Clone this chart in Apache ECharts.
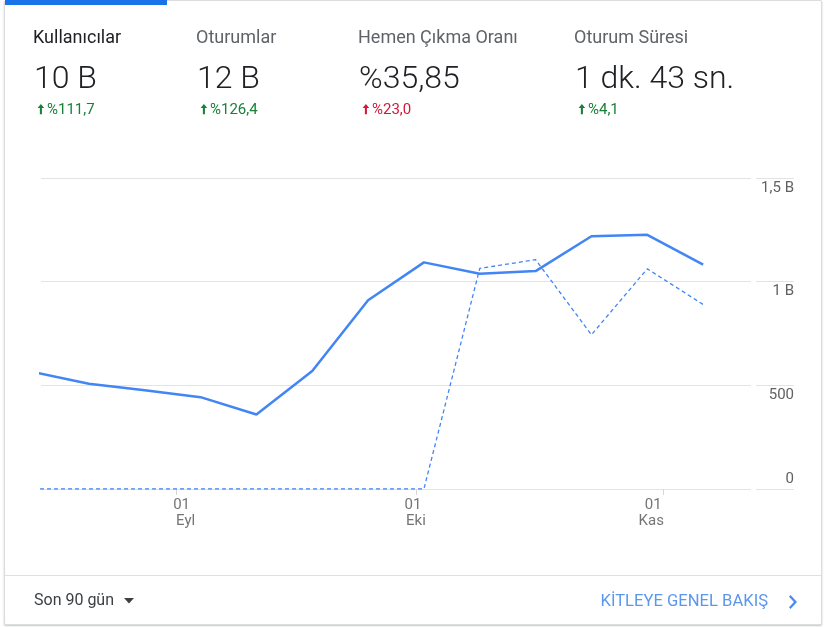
<!DOCTYPE html>
<html><head><meta charset="utf-8">
<script src="https://cdn.jsdelivr.net/npm/echarts@6/dist/echarts.min.js"></script>
<style>
html,body{margin:0;padding:0;background:#fff;overflow:hidden;}
#card{position:absolute;left:4px;top:0;width:816px;height:623px;border:1px solid #dadce0;border-radius:2px;box-shadow:0 1px 2px rgba(60,64,67,.3);background:#fff;}
#c{position:absolute;left:0;top:0;width:829px;height:627px;}
</style>
</head><body><div id="card"></div><div id="c"></div>
<script>
// ---- data ----
const weekDates = ['2019-08-14','2019-08-21','2019-08-28','2019-09-04','2019-09-11','2019-09-18','2019-09-25','2019-10-02','2019-10-09','2019-10-16','2019-10-23','2019-10-30','2019-11-06'];
const users     = [564, 508, 476, 443, 359, 569, 910, 1093, 1038, 1051, 1219, 1226, 1082];
const usersPrev = [0, 0, 0, 0, 0, 0, 0, 0, 1064, 1106, 744, 1062, 890];
const rangeStart = '2019-08-15';
const rangeEnd = '2019-11-12';
const monthTicks = ['2019-09-01','2019-10-01','2019-11-01'];
const monthLabels = ['Eyl','Eki','Kas'];
const dayLabel = '01';
const yTicks = [0, 500, 1000, 1500];
const yTickLabels = ['0', '500', '1 B', '1,5 B'];
const metricNames = ['Kullanıcılar','Oturumlar','Hemen Çıkma Oranı','Oturum Süresi'];
const metricValues = ['10 B','12 B','%35,85','1 dk. 43 sn.'];
const metricChanges = ['%111,7','%126,4','%23,0','%4,1'];
const metricGood = [true, true, false, true];
const rangeLabel = 'Son 90 gün';
const linkLabel = 'KİTLEYE GENEL BAKIŞ';

// ---- helpers ----
function ts(s){ const p = s.split('-').map(Number); return Date.UTC(p[0], p[1]-1, p[2]) / 86400000; } // day number
const BLUE = '#4285f4';
const FONT = 'Roboto, "Noto Sans", sans-serif';
const colX = [33, 196, 358, 574];

function fitPoints(pts, bx, by, bw, bh){
  let minX=Infinity,maxX=-Infinity,minY=Infinity,maxY=-Infinity;
  pts.forEach(p=>{minX=Math.min(minX,p[0]);maxX=Math.max(maxX,p[0]);minY=Math.min(minY,p[1]);maxY=Math.max(maxY,p[1]);});
  return pts.map(p=>[bx+(p[0]-minX)/(maxX-minX)*bw, by+(p[1]-minY)/(maxY-minY)*bh]);
}
const ARROW_UP = [[3.5,0],[7,4],[4.6,4],[4.6,10],[2.4,10],[2.4,4],[0,4]];
const CHEVRON = [[10,6],[8.59,7.41],[13.17,12],[8.59,16.59],[10,18],[16,12]];

const chart = echarts.init(document.getElementById('c'), null, {renderer:'canvas'});

const graphic = [];
graphic.push({type:'rect', shape:{x:5, y:0, width:162, height:5}, style:{fill:'#1a73e8'}});
metricNames.forEach((n,i)=>{
  graphic.push({type:'text', style:{text:n, x:colX[i], y:38, font:'18px '+FONT, fill: i===0 ? '#202124' : '#5f6368', align:'left', verticalAlign:'middle', textAlign:'left', textVerticalAlign:'middle'}});
  graphic.push({type:'text', style:{text:metricValues[i], x:colX[i]+1, y:79.5, font:'300 32px '+FONT, fill:'#202124', align:'left', verticalAlign:'middle', textAlign:'left', textVerticalAlign:'middle'}});
  const col = metricGood[i] ? '#188038' : '#d6173a';
  graphic.push({type:'polygon', shape:{points: fitPoints(ARROW_UP, colX[i]+4.6, 104, 6.6, 10.3)}, style:{fill:col}});
  graphic.push({type:'text', style:{text:metricChanges[i], x:colX[i]+14, y:110, font:'15px '+FONT, fill:col, align:'left', verticalAlign:'middle', textAlign:'left', textVerticalAlign:'middle'}});
});
graphic.push({type:'line', shape:{x1:5, y1:575.5, x2:821, y2:575.5}, style:{stroke:'#e0e0e0', lineWidth:1}});
graphic.push({type:'text', style:{text:rangeLabel, x:34, y:601, font:'16px '+FONT, fill:'#3c4043', align:'left', verticalAlign:'middle', textAlign:'left', textVerticalAlign:'middle'}});
graphic.push({type:'polygon', shape:{points:[[124,598],[134,598],[129,603.5]]}, style:{fill:'#3c4043'}});
graphic.push({type:'text', style:{text:linkLabel, x:768, y:602, font:'16.6px '+FONT, fill:'#5b97ec', align:'right', verticalAlign:'middle', textAlign:'right', textVerticalAlign:'middle'}});
graphic.push({type:'polygon', shape:{points: fitPoints(CHEVRON, 789, 595, 8, 14)}, style:{fill:'#4a8af4'}});

const monthTs = monthTicks.map(ts);
const xRich = {
  a0:{padding:[0,0,0,10]}, b0:{padding:[0,0,0,18]},
  a1:{padding:[0,6,0,0]},  b1:{},
  a2:{padding:[0,20,0,0]}, b2:{padding:[0,24,0,0]}
};
const yRich = { up:{padding:[0,0,20,0]}, dn:{padding:[20,0,0,0]} };

const option = {
  animation:false,
  textStyle:{fontFamily:FONT},
  graphic: graphic,
  grid:[
    {left:41, right:78, top:178, bottom:138},
    {left:756, right:35, top:178, bottom:138}
  ],
  xAxis:[
    {type:'value', gridIndex:0, min:ts(rangeStart), max:ts(rangeEnd), scale:true,
     axisLine:{show:false}, splitLine:{show:false},
     axisTick:{show:true, customValues:monthTs, length:6, lineStyle:{color:'#d6d6d6'}},
     axisLabel:{show:true, customValues:monthTs, margin:8, color:'#757575', fontSize:15, lineHeight:16, align:'center',
       formatter:function(v){ let k = 0, best = 1e9; monthTs.forEach((m,j)=>{ if (Math.abs(m-v) < best){best = Math.abs(m-v); k = j;} }); return '{a'+k+'|'+dayLabel+'}\n{b'+k+'|'+monthLabels[k]+'}'; },
       rich:xRich}
    },
    {type:'value', gridIndex:1, min:0, max:1, show:false}
  ],
  yAxis:[
    {type:'value', gridIndex:0, min:0, max:1500, interval:500,
     axisLine:{show:false}, axisTick:{show:false}, axisLabel:{show:false},
     splitLine:{show:true, lineStyle:{color:'#e3e3e3'}}},
    {type:'value', gridIndex:1, position:'right', min:0, max:1500, interval:500,
     axisLine:{show:false}, axisTick:{show:false},
     splitLine:{show:true, lineStyle:{color:'#e3e3e3'}},
     axisLabel:{inside:true, margin:0, color:'#616161', fontSize:15,
       formatter:function(v){ const i = yTicks.indexOf(v); const t = i<0 ? String(v) : yTickLabels[i]; return v===0 ? '{up|'+t+'}' : '{dn|'+t+'}'; },
       rich:yRich}}
  ],
  series:[
    {type:'line', xAxisIndex:0, yAxisIndex:0, clip:true, showSymbol:false, z:3,
     lineStyle:{color:BLUE, width:2.5}, itemStyle:{color:BLUE},
     data: weekDates.map((d,i)=>[ts(d), users[i]])},
    {type:'line', xAxisIndex:0, yAxisIndex:0, clip:true, showSymbol:false, z:2,
     lineStyle:{color:BLUE, width:1.3, type:[4,3]}, itemStyle:{color:BLUE},
     data: weekDates.map((d,i)=>[ts(d), usersPrev[i]])}
  ]
};
chart.setOption(option);
</script>
</body></html>
